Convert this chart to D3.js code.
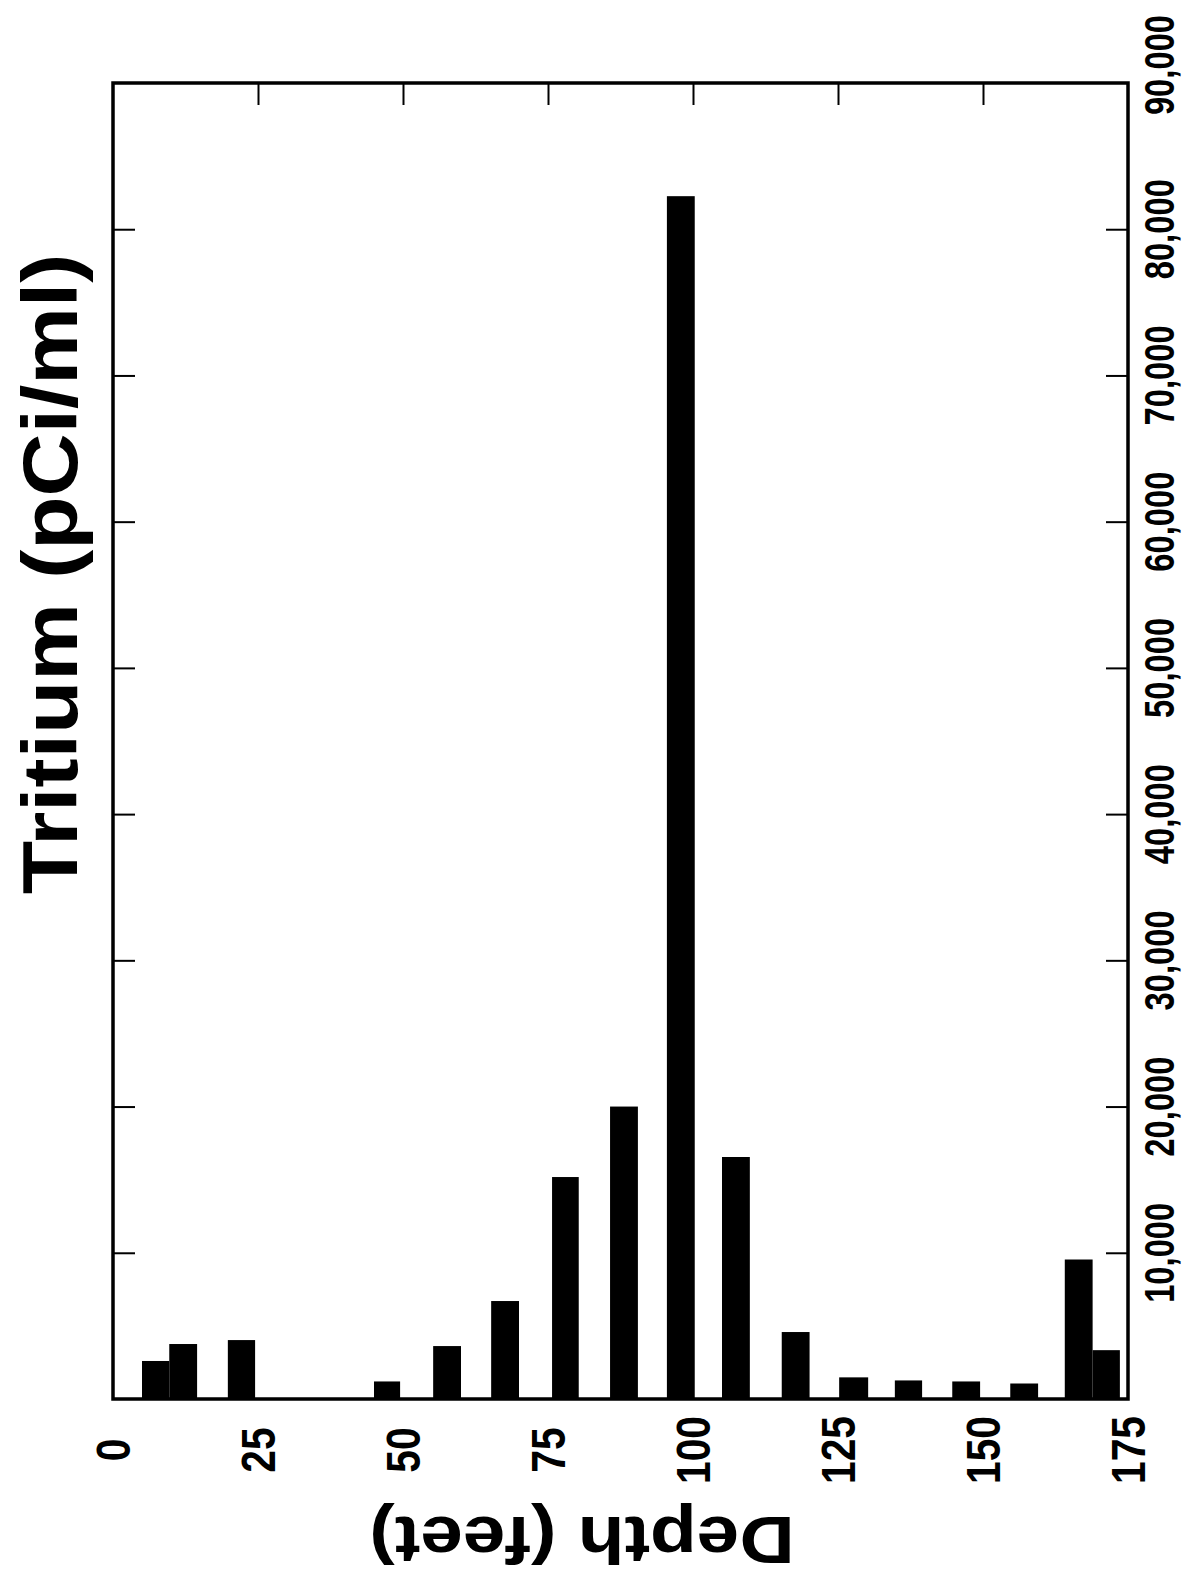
<!DOCTYPE html>
<html>
<head>
<meta charset="utf-8">
<script src="https://cdn.jsdelivr.net/npm/d3@7"></script>
<style>
  html, body { margin: 0; padding: 0; background: #fff; }
  svg { display: block; }
  text { font-family: "Liberation Sans", Arial, Helvetica, sans-serif; font-weight: bold; fill: #000; }
</style>
</head>
<body>
<script>
// Depth interval (feet) of each sample and its tritium value (pCi/ml)
const depthFrom = [5.0, 9.7, 19.8, 45.0, 55.2, 65.2, 75.7, 85.7, 95.5, 105.0, 115.3, 125.2, 134.8, 144.7, 154.7, 164.1, 168.9];
const depthTo   = [9.7, 14.5, 24.5, 49.5, 60.0, 70.0, 80.3, 90.5, 100.3, 109.8, 120.1, 130.2, 139.5, 149.5, 159.5, 168.9, 173.6];
const tritium   = [2600, 3760, 4030, 1200, 3620, 6700, 15180, 20000, 82260, 16550, 4580, 1480, 1270, 1200, 1060, 9540, 3340];

const depthTicks = [0, 25, 50, 75, 100, 125, 150, 175];
const valueTicks = [10000, 20000, 30000, 40000, 50000, 60000, 70000, 80000, 90000];
const depthTitle = "Depth (feet)";
const valueTitle = "Tritium (pCi/ml)";

const W = 1190, H = 1580;
const plot = { left: 113, right: 1128, top: 83, bottom: 1399 };

const svg = d3.select("body").append("svg").attr("width", W).attr("height", H);

const x = d3.scaleLinear().domain([0, 175]).range([plot.left, plot.right]);
const y = d3.scaleLinear().domain([0, 90000]).range([plot.bottom, plot.top]);

const bars = depthFrom.map((d, i) => ({ from: d, to: depthTo[i], v: tritium[i] }));

// bars
svg.append("g").selectAll("rect").data(bars).join("rect")
  .attr("x", d => x(d.from))
  .attr("width", d => x(d.to) - x(d.from))
  .attr("y", d => y(d.v))
  .attr("height", d => y(0) - y(d.v))
  .attr("fill", "#000");

// inner ticks: left (pointing right), right (pointing left), top (pointing down)
const tickLen = 22;
const leftAxis = d3.axisRight(y).tickValues(valueTicks.filter(v => v < 90000)).tickSize(tickLen).tickFormat("");
const rightAxis = d3.axisLeft(y).tickValues(valueTicks.filter(v => v < 90000)).tickSize(tickLen).tickFormat("");
const topAxis = d3.axisBottom(x).tickValues(depthTicks.filter(v => v > 0 && v < 175)).tickSize(tickLen).tickFormat("");

[[leftAxis, `translate(${plot.left},0)`], [rightAxis, `translate(${plot.right},0)`], [topAxis, `translate(0,${plot.top})`]]
  .forEach(([ax, tr]) => {
    const g = svg.append("g").attr("transform", tr).call(ax);
    g.select(".domain").remove();
    g.selectAll("line").attr("stroke", "#000").attr("stroke-width", 2);
  });

// frame
svg.append("rect")
  .attr("x", plot.left).attr("y", plot.top)
  .attr("width", plot.right - plot.left).attr("height", plot.bottom - plot.top)
  .attr("fill", "none").attr("stroke", "#000").attr("stroke-width", 3.5);

// depth tick labels (rotated, reading upward)
svg.append("g").selectAll("text").data(depthTicks).join("text")
  .attr("transform", d => `translate(${x(d)},1450) rotate(-90) scale(0.85,1)`)
  .attr("text-anchor", "middle")
  .attr("dominant-baseline", "central")
  .style("font-size", "48px")
  .text(d => d);

// value tick labels on the right
const fmt = d3.format(",");
svg.append("g").selectAll("text").data(valueTicks).join("text")
  .attr("transform", d => `translate(1160,${d === 90000 ? y(d) - 18 : y(d)}) rotate(-90) scale(0.78,1)`)
  .attr("text-anchor", "middle")
  .attr("dominant-baseline", "central")
  .style("font-size", "42px")
  .text(d => fmt(d));

// titles
svg.append("text")
  .attr("transform", `translate(50,574) rotate(-90) scale(1.12,1)`)
  .attr("text-anchor", "middle")
  .attr("dominant-baseline", "central")
  .style("font-size", "78px")
  .text(valueTitle);

svg.append("text")
  .attr("transform", `translate(582,1540) rotate(180) scale(1.16,1)`)
  .attr("text-anchor", "middle")
  .attr("dominant-baseline", "central")
  .style("font-size", "66px")
  .text(depthTitle);
</script>
</body>
</html>
